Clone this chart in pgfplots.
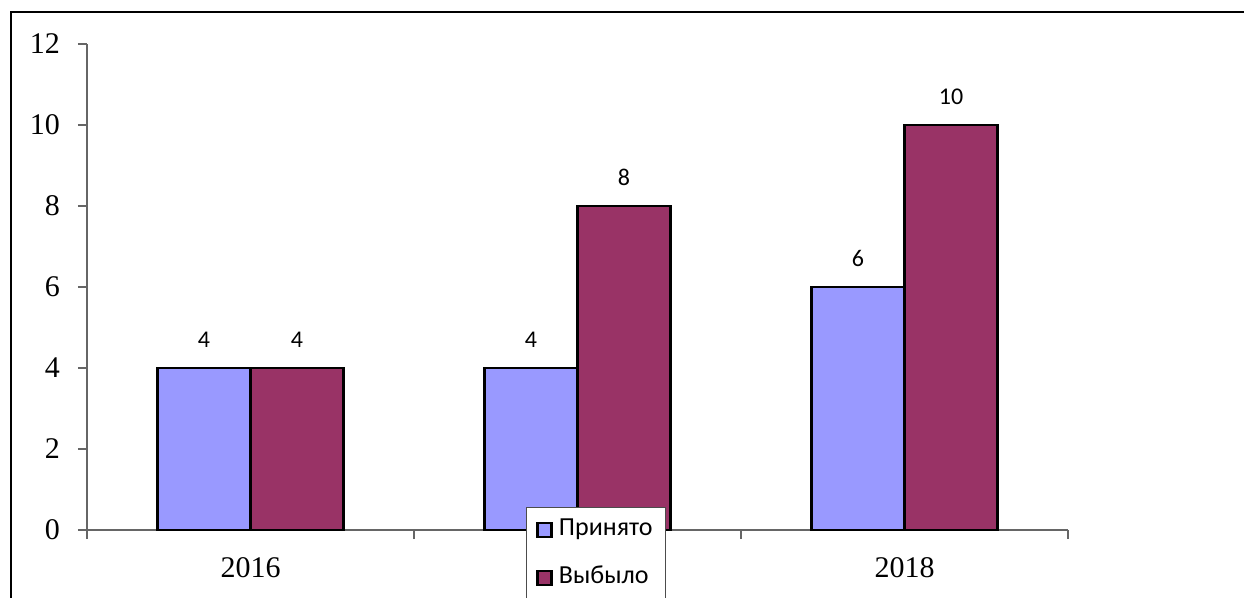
\documentclass[border=0pt]{standalone}
\usepackage{pgfplots}
\pgfplotsset{compat=1.18}
\usepackage{fontspec}
\setmainfont{Liberation Serif}
\newfontfamily\calibri{Carlito}
\definecolor{cblue}{HTML}{9999FF}
\definecolor{cpurple}{HTML}{993366}
\begin{document}
\begin{tikzpicture}[x=1pt,y=1pt]
\useasboundingbox (0,0) rectangle (1244,597);
\clip (0,0) rectangle (1244,597);
\draw[line width=2pt, overlay] (11,-20) rectangle (1270,585);
\begin{axis}[
  overlay,
  at={(87pt,67pt)}, anchor=south west,
  scale only axis, width=981pt, height=486pt,
  ybar=0pt, bar width=93pt,
  xmin=-0.5, xmax=2.5, ymin=0, ymax=12,
  axis lines=left,
  axis line style={draw=black!60, line width=1.6pt, -},
  xtick={0,1,2}, xticklabels={2016,,2018},
  minor xtick={-0.5,0.5,1.5,2.5},
  ytick={0,2,...,12},
  tick align=outside,
  major tick length=9pt, minor tick length=9pt,
  every major x tick/.append style={draw=none},
  every tick/.append style={draw=black!60, line width=1.6pt},
  tick label style={font=\fontsize{30}{36}\selectfont},
  /pgf/number format/assume math mode=true,
  yticklabel style={inner sep=0pt, xshift=-18pt},
  xticklabel style={inner sep=0pt, yshift=-18pt},
  nodes near coords,
  every node near coord/.append style={font=\calibri\fontsize{24}{28}\selectfont, inner sep=0pt, anchor=south, yshift=19pt, text=black},
  legend style={at={(0.4475,0.0473)}, anchor=north west, draw=black!70, line width=1pt, fill=white,
    font=\calibri\fontsize{26}{31}\selectfont, inner xsep=10pt, inner ysep=8pt, row sep=19pt, column sep=3pt,
    nodes={inner sep=3pt, text height=17pt, text depth=6pt}},
  legend image code/.code={\draw[#1, draw=black, line width=2.5pt] (0pt,-7pt) rectangle (14pt,7pt);},
  legend cell align=left,
]
\addplot[fill=cblue, draw=black, line width=2.6pt] coordinates {(0,4) (1,4) (2,6)};
\addplot[fill=cpurple, draw=black, line width=2.6pt] coordinates {(0,4) (1,8) (2,10)};
\legend{Принято, Выбыло}
\end{axis}
\end{tikzpicture}
\end{document}
